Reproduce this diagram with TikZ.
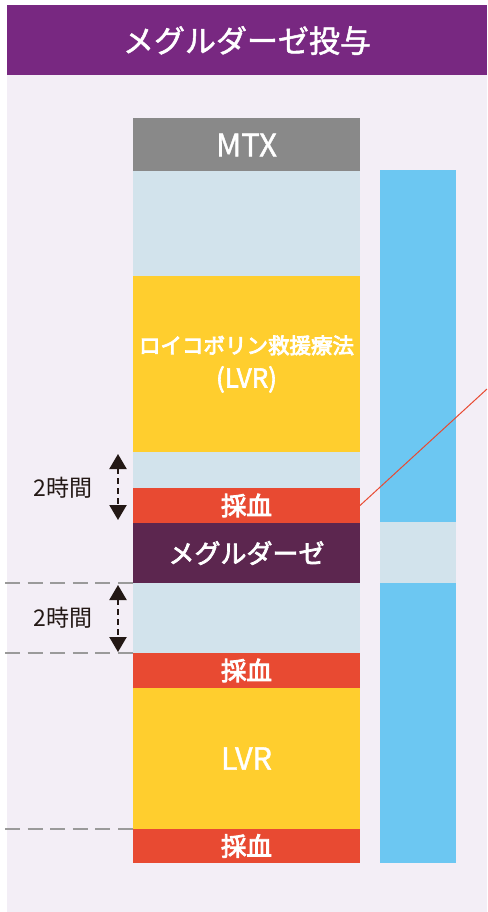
\documentclass[tikz,border=0pt]{standalone}
\usepackage{fontspec}
\newfontfamily\jp{Noto Sans CJK JP}
\newcommand\thick[2]{\special{pdf:literal direct 2 Tr #1 w}#2\special{pdf:literal direct 0 Tr}}
\usetikzlibrary{arrows.meta}
\definecolor{panelbg}{HTML}{F3EEF6}
\definecolor{hdrpurple}{HTML}{782881}
\definecolor{mtxgray}{HTML}{898989}
\definecolor{lightblue}{HTML}{D2E3EC}
\definecolor{lvryellow}{HTML}{FFCE2E}
\definecolor{bloodred}{HTML}{E84A32}
\definecolor{megpurple}{HTML}{5C264F}
\definecolor{barblue}{HTML}{6CC7F2}
\definecolor{dashgray}{HTML}{9A9A9A}
\definecolor{txtdark}{HTML}{231815}
\tikzset{
  seg/.style={rectangle, inner sep=0pt, outer sep=0pt, draw=none, minimum width=227pt, text=white, align=center},
  barseg/.style={rectangle, inner sep=0pt, outer sep=0pt, draw=none, minimum width=76pt},
  gdash/.style={draw=dashgray, line width=2pt, dash pattern=on 15pt off 7.6pt},
  tarrow/.style={draw=txtdark, line width=2.2pt, dash pattern=on 6pt off 4pt, {Triangle[width=17pt,length=15pt]}-{Triangle[width=17pt,length=15pt]}},
  lbl/.style={text=txtdark, font=\jp\fontsize{23}{26}\selectfont, inner sep=0pt},
}
\begin{document}
\begin{tikzpicture}[x=1pt,y=-1pt]
\useasboundingbox (0,0) rectangle (487,912);
\fill[white] (0,0) rectangle (487,912);
\fill[panelbg] (7,5) rectangle (487,912);
\node[rectangle, fill=hdrpurple, inner sep=0pt, minimum width=480pt, minimum height=70pt, text=white, font=\jp\fontsize{31}{36}\selectfont] (hdr) at (247,40.5) {\thick{0.5}{メグルダーゼ投与}};

% main column
\node[seg, fill=mtxgray, minimum height=53pt, font=\jp\fontsize{31}{34}\selectfont] (mtx) at (246.5,145) {\thick{0.4}{MTX}};
\node[seg, fill=lightblue, minimum height=105pt] (lb1) at (246.5,223.5) {};
\node[seg, fill=lvryellow, minimum height=176pt, font=\jp\fontsize{21.5}{34}\selectfont] (lvr1) at (246.5,364) {\thick{0.8}{ロイコボリン救援療法}\\{\fontsize{26}{34}\selectfont\thick{0.6}{(LVR)}}};
\node[seg, fill=lightblue, minimum height=36pt] (lb2) at (246.5,470) {};
\node[seg, fill=bloodred, minimum height=35pt, font=\jp\fontsize{25.5}{30}\selectfont] (red1) at (246.5,505.5) {\thick{0.9}{採血}};
\node[seg, fill=megpurple, minimum height=60pt, font=\jp\fontsize{26}{30}\selectfont] (meg) at (246.5,553) {\thick{0.7}{メグルダーゼ}};
\node[seg, fill=lightblue, minimum height=70pt] (lb3) at (246.5,618) {};
\node[seg, fill=bloodred, minimum height=35pt, font=\jp\fontsize{25.5}{30}\selectfont] (red2) at (246.5,670.5) {\thick{0.9}{採血}};
\node[seg, fill=lvryellow, minimum height=141pt, font=\jp\fontsize{30.5}{34}\selectfont] (lvr2) at (246.5,758.5) {\thick{0.4}{LVR}};
\node[seg, fill=bloodred, minimum height=34pt, font=\jp\fontsize{25.5}{30}\selectfont] (red3) at (246.5,846) {\thick{0.9}{採血}};

% right bar
\node[barseg, fill=barblue, minimum height=352pt] (bar1) at (418,346) {};
\node[barseg, fill=lightblue, minimum height=61pt] (bar2) at (418,552.5) {};
\node[barseg, fill=barblue, minimum height=280pt] (bar3) at (418,723) {};

% red line
\coordinate (redend) at (487,389);
\draw[bloodred, line width=1pt] (red1.east) -- (redend);

% dashed guides
\coordinate (g1) at (5,583);
\coordinate (g2) at (5,653);
\coordinate (g3) at (5,829);
\draw[gdash] (g1) -- (lb3.north west);
\draw[gdash] (g2) -- (lb3.south west);
\draw[gdash] (g3) -- (lvr2.south west);

% arrows
\coordinate (a1t) at (118,454);
\coordinate (a1b) at (118,520);
\coordinate (a2t) at (118,585);
\coordinate (a2b) at (118,652);
\draw[tarrow] (a1t) -- (a1b);
\draw[tarrow] (a2t) -- (a2b);
\node[lbl] (t1) at (63,488) {2時間};
\node[lbl] (t2) at (63,618) {2時間};
\end{tikzpicture}
\end{document}
